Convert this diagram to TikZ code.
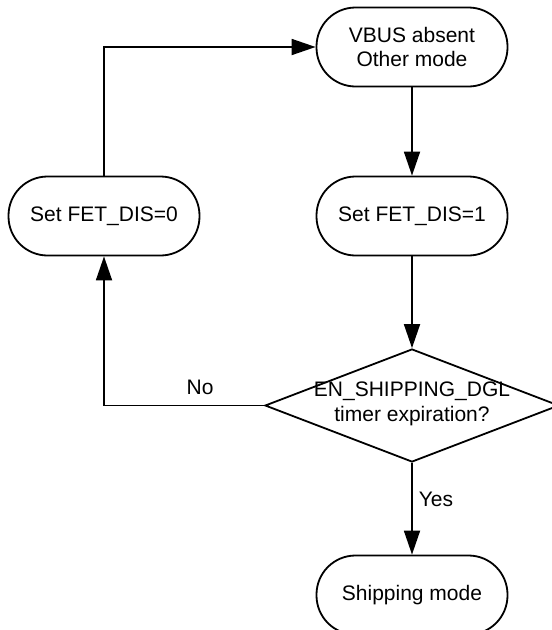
\documentclass[tikz,border=0pt]{standalone}
\usepackage{fontspec}
\setmainfont{Liberation Sans}
\usetikzlibrary{shapes.geometric,arrows.meta}
\begin{document}
\begin{tikzpicture}[x=1pt,y=-1pt,line width=1.8pt,
  every node/.style={font=\fontsize{21}{24.5}\selectfont},
  term/.style={draw,rectangle,rounded corners=39pt,minimum width=191pt,minimum height=79pt,align=center,inner sep=0pt},
  decide/.style={draw,diamond,minimum width=294pt,minimum height=113pt,inner sep=0pt},
  arr/.style={-{Triangle[length=24pt,width=16pt]}}]
\useasboundingbox (0,0) rectangle (552,630);
\clip (0,0) rectangle (552,630);
\node[term] (vbus) at (412,47) {VBUS absent\\Other mode};
\node[term] (set1) at (412,216) {Set FET\_DIS=1};
\node[term] (set0) at (104,216) {Set FET\_DIS=0};
\node[decide] (dec) at (412,405.5) {};
\node[align=center,inner sep=0pt] (dectext) at (412,404) {EN\_SHIPPING\_DGL\\timer expiration?};
\node[term] (ship) at (412,595) {Shipping mode};
\coordinate (c1) at (104,47);
\coordinate (c2) at (104,405.5);
\draw[arr] (vbus) -- (set1);
\draw[arr] (set1) -- (dec);
\draw[arr] (dec) -- node[right,inner sep=6pt,pos=0.4] (yes) {Yes} (ship);
\draw[arr] (dec.west) -- node[above,pos=0.4,inner sep=10pt] (no) {No} (c2) -- (set0.south);
\draw[arr] (set0.north) -- (c1) -- (vbus.west);
\end{tikzpicture}
\end{document}
